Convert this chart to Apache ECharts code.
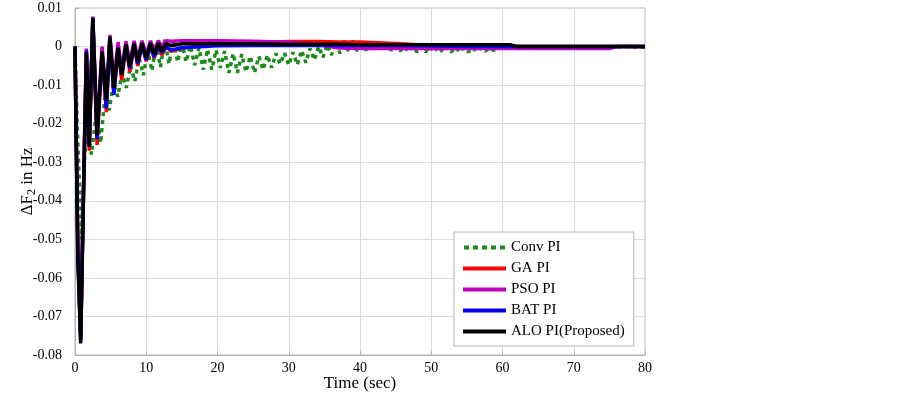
<!DOCTYPE html>
<html>
<head>
<meta charset="utf-8">
<script src="https://cdn.jsdelivr.net/npm/echarts@6/dist/echarts.min.js"></script>
<style>
html,body{margin:0;padding:0;background:#fff;}
#chart{width:903px;height:394px;}
</style>
</head>
<body>
<div id="chart"></div>
<script>
// ---- data ----
const seriesNames = ['Conv PI', 'GA PI', 'PSO PI', 'BAT PI', 'ALO PI(Proposed)'];
const xTicks = [0, 10, 20, 30, 40, 50, 60, 70, 80];
const yTicks = [-0.08, -0.07, -0.06, -0.05, -0.04, -0.03, -0.02, -0.01, 0, 0.01];

// time samples shared by the optimised PI controllers (s)
const timePI = [0, 0.15, 0.4, 0.8, 1.2, 1.6, 2.0, 2.5, 3.1, 3.8, 4.4, 4.9, 5.45, 6.05, 6.55, 7.15, 7.7, 8.3, 8.8, 9.4, 10.0, 10.6, 11.1, 11.7, 12.2, 12.8, 13.5, 15, 20, 25, 30, 34, 37, 40, 45, 50, 55, 61, 62, 70, 75, 76, 80];

const gaPI = [0, -0.02, -0.052, -0.075, -0.037, -0.002, -0.027, 0.0068, -0.0255, -0.002, -0.017, 0.0018, -0.0118, -0.0008, -0.0087, 0.0002, -0.0065, 0.0003, -0.005, 0.0004, -0.0038, 0.0003, -0.003, 0.0003, -0.0022, 0, -0.0012, -0.0004, 0.0006, 0.001, 0.0013, 0.0013, 0.0012, 0.0012, 0.0008, 0.0003, 0.0002, 0.0001, 0, 0, 0, 0, 0];

const psoPI = [0, -0.021, -0.053, -0.076, -0.036, -0.0005, -0.025, 0.0078, -0.022, 0, -0.013, 0.003, -0.009, 0.0012, -0.006, 0.0014, -0.004, 0.0015, -0.003, 0.0015, -0.002, 0.0015, -0.001, 0.0015, 0, 0.0015, 0.0014, 0.0015, 0.0015, 0.0014, 0.0011, 0.0005, -0.0004, -0.0005, -0.0005, -0.0005, -0.0005, -0.0005, -0.0005, -0.0005, -0.0005, 0, 0];

const batPI = [0, -0.021, -0.054, -0.076, -0.037, -0.001, -0.026, 0.0076, -0.024, -0.0015, -0.016, 0.0022, -0.0125, -0.0006, -0.0072, 0, -0.0057, 0.0002, -0.0045, 0.0002, -0.0035, 0.0002, -0.0027, 0.0001, -0.0015, -0.0002, -0.0009, -0.0003, 0.0002, 0.0003, 0.0003, 0.0003, 0.0003, 0.0003, 0.0003, 0.0002, 0, 0, 0, 0, 0, 0, 0];

const aloPI = [0, -0.022, -0.055, -0.077, -0.038, -0.0015, -0.026, 0.0074, -0.023, -0.0013, -0.014, 0.0026, -0.0107, -0.0003, -0.0074, 0.0006, -0.0052, 0.0008, -0.0039, 0.0009, -0.003, 0.0009, -0.002, 0.0009, -0.0012, 0.0008, 0.0002, 0.0007, 0.0007, 0.0007, 0.0006, 0.0006, 0.0006, 0.0005, 0.0005, 0.0005, 0.0005, 0.0005, 0, 0, 0, 0, 0];

// conventional PI (oscillatory) samples
const timeConv = [0, 0.3, 0.9, 1.6, 2.3, 3.0, 3.6, 4.2, 4.8, 5.4, 6.0, 6.6, 7.2, 7.8, 8.4, 9.0, 9.6, 10.2, 10.8, 11.4, 12.0, 12.6, 13.2, 13.8, 14.4, 15.0, 15.6, 16.2, 16.8, 17.4, 18.0, 18.6, 19.2, 19.8, 20.4, 21.0, 21.6, 22.2, 22.8, 23.4, 24.0, 24.6, 25.2, 25.8, 26.4, 27.0, 27.6, 28.2, 28.8, 29.4, 30.0, 30.6, 31.2, 31.8, 32.4, 33.0, 33.6, 34.2, 34.8, 35.4, 36.0, 36.6, 37.2, 37.8, 38.4, 39.0, 39.6, 40.2, 40.8, 41.4, 42.0, 42.6, 43.2, 43.8, 44.4, 45.0, 45.6, 46.2, 46.8, 47.4, 48.0, 48.6, 49.2, 49.8, 50.4, 51.0, 51.6, 52.2, 52.8, 53.4, 54.0, 54.6, 55.2, 55.8, 56.4, 57.0, 57.6, 58.2, 58.8, 59.4, 60.0, 61.0, 62.0, 63.0, 66.0, 70.0, 74.0, 77.0, 80.0];

const convPI = [0, -0.02, -0.05, -0.018, -0.028, -0.017, -0.025, -0.013, -0.0165, -0.0095, -0.013, -0.007, -0.0107, -0.005, -0.009, -0.003, -0.0074, -0.001, -0.0063, 0.0005, -0.0053, 0.0018, -0.0045, 0.002, -0.004, 0.001, -0.004, 0.0002, -0.0048, -0.0003, -0.006, -0.0007, -0.006, -0.0009, -0.0055, -0.0012, -0.0068, -0.0018, -0.0068, -0.002, -0.0066, -0.0025, -0.0068, -0.0026, -0.006, -0.0022, -0.0055, -0.0018, -0.0045, -0.0017, -0.0048, -0.0015, -0.0047, -0.001, -0.0042, -0.0005, -0.0035, 0, -0.0028, 0.0005, -0.0022, 0.0012, -0.0018, 0.0015, -0.0014, 0.0015, -0.0012, 0.0015, -0.001, 0.0012, -0.0009, 0.001, -0.0009, 0.0005, -0.001, 0.0002, -0.0012, 0, -0.0013, 0, -0.0014, 0, -0.0014, 0, -0.0014, 0, -0.0014, -0.0002, -0.0014, -0.0002, -0.0014, -0.0003, -0.0014, -0.0003, -0.0013, -0.0003, -0.0012, -0.0003, -0.001, -0.0002, -0.0006, 0, -0.0003, 0, -0.0002, 0, -0.0002, 0, -0.0002];

// ---- chart ----
const font = 'Liberation Serif';
const pairs = (ts, vs) => ts.map((t, i) => [t, vs[i]]);
const chart = echarts.init(document.getElementById('chart'), null, {renderer: 'canvas'});

const mkLine = (name, data, color, extra) => Object.assign({
  name, type: 'line', data, showSymbol: false, symbol: 'none', smooth: false,
  lineStyle: {color, width: 3.5}, itemStyle: {color}, animation: false, z: 2
}, extra || {});

const dashIcon = 'path://M0,0h5v4h-5z M9,0h5v4h-5z M18,0h5v4h-5z M27,0h5v4h-5z M36,0h5v4h-5z';

chart.setOption({
  animation: false,
  backgroundColor: '#fff',
  grid: {left: 75, right: 258, top: 8, bottom: 39, show: true, borderColor: '#b4b4b4', borderWidth: 1,
         backgroundColor: '#fff', outerBoundsMode: 'none', containLabel: false},
  xAxis: {
    type: 'value', min: xTicks[0], max: xTicks[xTicks.length - 1], interval: 10,
    name: 'Time (sec)', nameLocation: 'middle', nameGap: 20, nameMoveOverlap: false,
    nameTextStyle: {fontFamily: font, fontSize: 17, color: '#000'},
    axisLine: {show: true, onZero: false, lineStyle: {color: '#b4b4b4'}},
    axisTick: {show: true, inside: true, length: 4, lineStyle: {color: '#b4b4b4'}},
    axisLabel: {fontFamily: font, fontSize: 14, color: '#000', margin: 6},
    splitLine: {show: true, lineStyle: {color: '#dcdcdc', width: 1}}
  },
  yAxis: {
    type: 'value', min: yTicks[0], max: yTicks[yTicks.length - 1], interval: 0.01,
    name: '{a|ΔF}{s|2}{a| in Hz}', nameLocation: 'middle', nameGap: 37, nameRotate: 90, nameMoveOverlap: false,
    nameTextStyle: {fontFamily: font, fontSize: 17, color: '#000',
      rich: {a: {fontFamily: font, fontSize: 17, color: '#000'},
             s: {fontFamily: font, fontSize: 12, color: '#000', verticalAlign: 'bottom', padding: [9, 0, 0, 0]}}},
    axisLine: {show: true, onZero: false, lineStyle: {color: '#b4b4b4'}},
    axisTick: {show: true, inside: true, length: 4, lineStyle: {color: '#b4b4b4'}},
    axisLabel: {fontFamily: font, fontSize: 14, color: '#000', margin: 13,
      formatter: v => Math.abs(v) < 1e-9 ? '0' : v.toFixed(2)},
    splitLine: {show: true, lineStyle: {color: '#dcdcdc', width: 1}}
  },
  legend: {
    show: true, orient: 'vertical', left: 454, top: 232,
    backgroundColor: '#fff', borderColor: '#b4b4b4', borderWidth: 1,
    padding: [7, 9, 6, 9], itemGap: 4, itemWidth: 43, itemHeight: 4,
    textStyle: {fontFamily: font, fontSize: 15, color: '#000', lineHeight: 17},
    data: [
      {name: seriesNames[0], icon: dashIcon},
      {name: seriesNames[1], icon: 'rect'},
      {name: seriesNames[2], icon: 'rect'},
      {name: seriesNames[3], icon: 'rect'},
      {name: seriesNames[4], icon: 'rect'}
    ]
  },
  series: [
    mkLine(seriesNames[0], pairs(timeConv, convPI), '#1a8a1a', {lineStyle: {color: '#1a8a1a', width: 3.5, type: [4, 4], cap: 'butt'}}),
    mkLine(seriesNames[1], pairs(timePI, gaPI), '#ff0000'),
    mkLine(seriesNames[2], pairs(timePI, psoPI), '#c000c0'),
    mkLine(seriesNames[3], pairs(timePI, batPI), '#0000ff'),
    mkLine(seriesNames[4], pairs(timePI, aloPI), '#000000')
  ]
});
</script>
</body>
</html>
